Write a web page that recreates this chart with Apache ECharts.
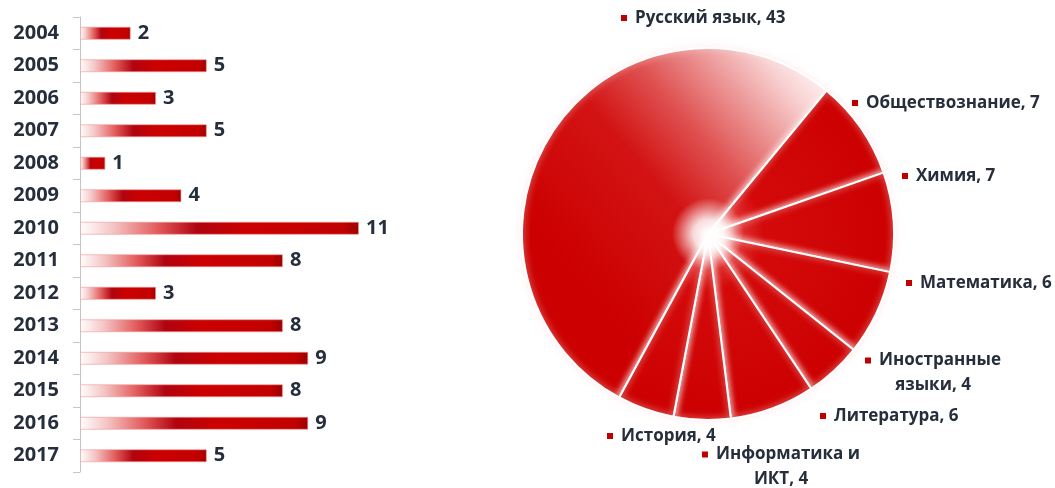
<!DOCTYPE html>
<html><head><meta charset="utf-8">
<script src="https://cdn.jsdelivr.net/npm/echarts@6/dist/echarts.min.js"></script>
<style>html,body{margin:0;padding:0;background:#fff}#c{width:1055px;height:488px}</style>
</head><body><div id="c"></div>
<script>
const years = ['2004','2005','2006','2007','2008','2009','2010','2011','2012','2013','2014','2015','2016','2017'];
const yearCounts = [2,5,3,5,1,4,11,8,3,8,9,8,9,5];
const subjects = ['Русский язык','Обществознание','Химия','Математика','Иностранные\nязыки','Литература','Информатика и\nИКТ','История'];
const subjectCounts = [43,7,7,6,4,6,4,4];

// label anchor layout for pie labels (x, y, align)
const pieLabelPos = [
  [621,18,'left'],[852,103,'left'],[902,176,'left'],[906,283,'left'],
  [933,373,'center'],[820,416,'left'],[781,467,'center'],[607,436,'left']
];

const CX = 708, CY = 234, R = 186;
const FONT = 'Open Sans';
const TXT = '#262e3b';

const redRadial = new echarts.graphic.RadialGradient(CX, CY, R, [
  {offset:0,color:'#ffffff'},{offset:0.05,color:'#fbe2e2'},{offset:0.15,color:'#e23636'},
  {offset:0.3,color:'#d40a0a'},{offset:1,color:'#cc0000'}], true);
const rusGrad = new echarts.graphic.LinearGradient(600, 300, 830, 100, [
  {offset:0,color:'#cc0000'},{offset:0.4,color:'#d31414'},{offset:0.6,color:'#df5050'},
  {offset:0.8,color:'#eea0a0'},{offset:0.93,color:'#f9d4d4'},{offset:1,color:'#fde8e8'}], true);

const barGrad = new echarts.graphic.LinearGradient(0,0,1,0,[
  {offset:0,color:'#ffffff'},{offset:0.12,color:'#f4c4c4'},{offset:0.28,color:'#e25a5a'},
  {offset:0.42,color:'#b00410'},{offset:0.6,color:'#cc0000'},{offset:0.94,color:'#c20000'},{offset:1,color:'#9a0000'}]);

function pieLabel(p){
  const lines = p.name.split('\n');
  const last = lines.length - 1;
  return lines.map((l,i)=> (i===0?'{m|}{g|}':'') + '{t|' + l + (i===last? ', ' + p.value : '') + '}').join('\n');
}

const chart = echarts.init(document.getElementById('c'));
chart.setOption({
  animation:false,
  grid:{left:80, top:17, width:279, height:455},
  xAxis:{type:'value', min:0, max:11, show:false},
  yAxis:{type:'category', inverse:true, data:years,
    axisLine:{show:true, lineStyle:{color:'#c4c4c4', width:1}},
    axisTick:{show:true, length:7, lineStyle:{color:'#c4c4c4'}},
    axisLabel:{margin:21, fontFamily:FONT, fontWeight:'bold', fontSize:20, color:TXT}},
  series:[
    {type:'bar', data:yearCounts, barWidth:13,
      itemStyle:{color:barGrad, borderColor:'rgba(240,150,150,0.6)', borderWidth:1},
      label:{show:true, position:'right', distance:7, fontFamily:FONT, fontWeight:'bold', fontSize:20, color:TXT},
      emphasis:{disabled:true}},
    {type:'pie', center:[CX,CY], radius:R, startAngle:241.5, clockwise:true,
      avoidLabelOverlap:false, emphasis:{disabled:true},
      data: subjects.map((s,i)=>({name:s, value:subjectCounts[i], itemStyle:{color: i===0 ? rusGrad : redRadial}})),
      itemStyle:{borderColor:'#fff', borderWidth:2, shadowBlur:7, shadowColor:'rgba(255,235,235,0.9)'},
      labelLine:{show:false},
      label:{show:true, position:'outside', formatter:pieLabel, lineHeight:25,
        rich:{m:{width:6,height:6,backgroundColor:'#c00000'},
              g:{width:8},
              t:{fontFamily:FONT, fontWeight:'bold', fontSize:17, color:TXT, lineHeight:25}}},
      labelLayout:function(p){ const q = pieLabelPos[p.dataIndex]; return {x:q[0], y:q[1], align:q[2], verticalAlign:'middle'}; }
    },
    {type:'pie', center:[CX,CY], radius:36, silent:true, label:{show:false}, labelLine:{show:false},
      data:[{value:1, itemStyle:{color:new echarts.graphic.RadialGradient(0.5,0.5,0.5,[
        {offset:0,color:'rgba(255,255,255,1)'},{offset:0.4,color:'rgba(255,255,255,0.85)'},{offset:1,color:'rgba(255,255,255,0)'}])}}]}
  ]
});
</script></body></html>
